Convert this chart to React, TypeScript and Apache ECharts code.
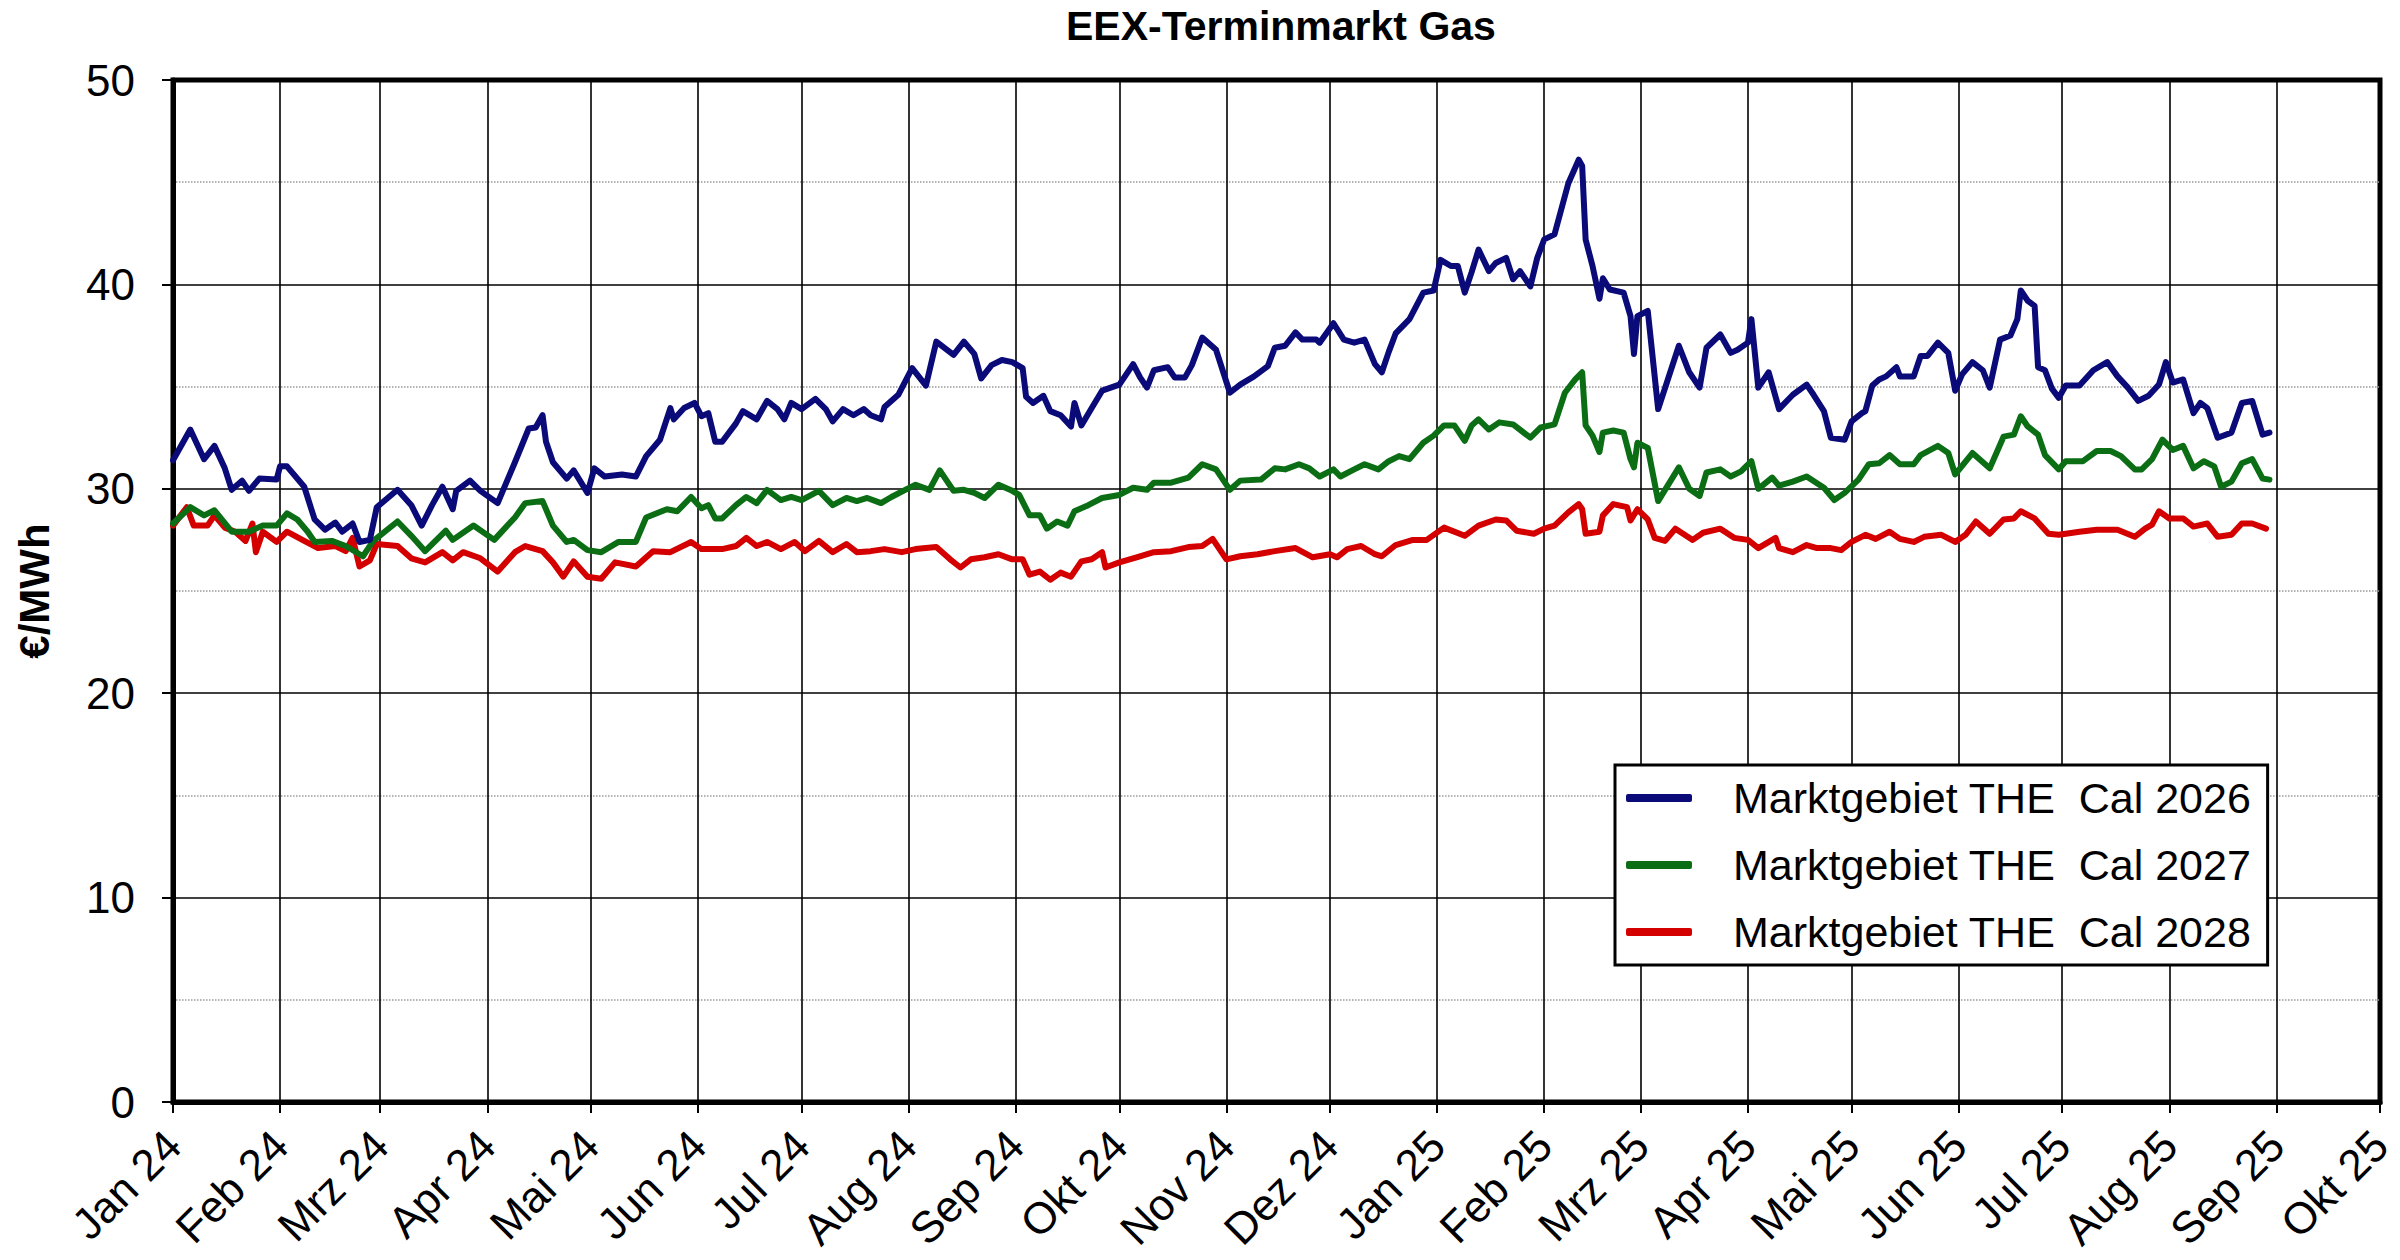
import React, { useEffect, useRef } from "react";
import * as echarts from "echarts";

// x-axis: one category per calendar day, 2024-01-01 … 2025-10-01
const AXIS_START = { year: 2024, month: 0, day: 1 };
const AXIS_DAY_COUNT = 640;
const monthNames = ["Jan", "Feb", "Mrz", "Apr", "Mai", "Jun", "Jul", "Aug", "Sep", "Okt", "Nov", "Dez"];

const chartTitle = "EEX-Terminmarkt Gas";
const yAxisName = "€/MWh";
const seriesNames = ["Marktgebiet THE  Cal 2026", "Marktgebiet THE  Cal 2027", "Marktgebiet THE  Cal 2028"];

// days since 2024-01-01 and the price (€/MWh)
const cal2026Days = [
  0, 5, 9, 12, 15, 17, 20, 22, 25, 30, 31, 33, 38, 41, 44, 47, 49, 52, 54, 57, 59, 65, 69, 72, 75, 78, 81, 82, 86, 89,
  94, 99, 103, 105, 107, 108, 110, 114, 116, 120, 122, 125, 130, 134, 137, 141, 144, 145, 148, 151,
  153, 155, 157, 159, 163, 165, 169, 172, 175, 177, 179, 182, 186, 189, 191, 194, 197, 200, 202, 205, 206, 210, 214,
  218, 221, 226, 229, 232, 234, 237, 240, 243, 246, 247, 249, 252, 254, 257, 260, 261, 263, 266, 269, 274, 278, 280,
  282, 284, 288, 290, 293, 295, 298, 302, 306,
  309, 313, 317, 319, 322, 325, 327, 331, 332, 336, 339, 342, 345, 348, 350, 352, 354, 358, 362, 365, 367, 370, 372,
  374, 376, 378, 381, 383, 386, 388, 390, 393, 395, 397, 400, 404, 407, 408, 409, 411, 413, 414, 416, 420, 422, 423,
  424, 427, 430, 436, 439, 442, 444, 448, 451, 453, 456, 457, 459, 462, 465,
  469, 473, 475, 478, 480, 484, 486, 489, 490, 492, 494, 496, 499, 500, 504, 506, 508, 511, 514, 516, 518, 521, 524,
  526, 529, 532, 534, 535, 537, 539, 540, 542, 544, 546, 548, 552, 556, 560, 563, 566, 569, 572, 575, 577, 579, 582,
  585, 587, 589, 592, 596, 599, 602, 605, 607,
];
const cal2026Values = [
  31.4, 32.9, 31.45, 32.1, 31.0, 29.95, 30.4, 29.9, 30.5, 30.45, 31.1, 31.1, 30.1, 28.5, 28.0, 28.35, 27.9, 28.3, 27.4,
  27.5, 29.1, 29.95, 29.2, 28.2, 29.2, 30.1, 29.0, 29.9, 30.4, 29.9,
  29.3, 31.3, 32.95, 33.0, 33.6, 32.3, 31.3, 30.5, 30.9, 29.8, 31.0, 30.6, 30.7, 30.6, 31.6, 32.4, 33.95, 33.4, 33.95, 34.2,
  33.55, 33.7, 32.3, 32.3, 33.2, 33.8, 33.4, 34.3, 33.9, 33.4, 34.2, 33.9, 34.4, 33.9, 33.3, 33.9, 33.6, 33.9, 33.6, 33.4,
  34.0, 34.6, 35.9, 35.05, 37.2, 36.55, 37.2, 36.6, 35.4, 36.05, 36.3, 36.2, 35.9, 34.5, 34.2, 34.55, 33.8, 33.6, 33.05,
  34.2, 33.1, 33.95, 34.8, 35.1, 36.1, 35.45, 34.95, 35.8, 35.95, 35.45, 35.45, 36.05, 37.4, 36.8, 34.7,
  35.1, 35.5, 36.0, 36.9, 37.0, 37.65, 37.3, 37.3, 37.15, 38.1, 37.3, 37.15, 37.3, 36.1, 35.7, 36.7, 37.6, 38.3, 39.6,
  39.7, 41.2, 40.9, 40.9, 39.6, 40.6, 41.7, 40.65, 41.05, 41.3, 40.25, 40.65, 39.9, 41.3, 42.2, 42.45, 44.95, 46.1, 45.8,
  42.2, 40.9, 39.3, 40.3, 39.75, 39.6, 38.45, 36.6, 38.45, 38.7, 33.9, 37.0, 35.7, 34.95, 36.9, 37.55, 36.65, 36.8, 37.15,
  38.3, 34.95, 35.7, 33.9,
  34.6, 35.1, 34.6, 33.8, 32.5, 32.4, 33.3, 33.7, 33.8, 35.05, 35.35, 35.5, 35.95, 35.5, 35.5, 36.5, 36.5, 37.15, 36.65,
  34.8, 35.6, 36.2, 35.8, 34.95, 37.3, 37.5, 38.3, 39.7, 39.2, 38.95, 35.95, 35.8, 34.9, 34.45, 35.05, 35.05, 35.8, 36.2,
  35.5, 34.95, 34.3, 34.55, 35.1, 36.2, 35.2, 35.35, 33.7, 34.2, 33.95, 32.5, 32.75, 34.2, 34.3, 32.65, 32.75,
];

const cal2027Days = [
  0, 5, 9, 12, 17, 22, 26, 30, 33, 36, 39, 41, 46, 50, 55, 58, 65, 69, 73, 79, 81, 87, 93, 99, 102, 107, 110, 114, 116,
  120, 124, 129, 134, 137, 143, 146, 150,
  153, 155, 157, 159, 163, 166, 169, 172, 176, 179, 182, 187, 191, 195, 198, 201, 205, 208, 212, 215, 219, 222, 226,
  229, 232, 235, 239, 243, 245, 248, 251, 253, 256, 259, 261, 265, 269, 274, 278, 282, 284, 289, 294, 298, 302, 306,
  309, 315, 319, 322, 326, 329, 332, 336, 338, 342, 345, 349, 352, 355, 358, 362, 365, 368, 371, 374, 376, 378, 381,
  384, 388, 393, 396, 400, 403, 406, 408, 409, 411, 413, 414, 417, 420, 422, 423, 424, 427, 430, 436, 439, 442, 444,
  448, 451, 454, 457, 459, 463, 465,
  469, 473, 478, 481, 484, 488, 491, 494, 497, 500, 504, 506, 511, 514, 516, 521, 526, 530, 533, 535, 537, 540, 542,
  546, 548, 553, 557, 561, 564, 568, 570, 573, 576, 579, 582, 585, 588, 591, 593, 596, 599, 602, 605, 607,
];
const cal2027Values = [
  28.3, 29.1, 28.7, 28.95, 27.9, 27.9, 28.2, 28.2, 28.8, 28.5, 27.9, 27.4, 27.45, 27.2, 26.7, 27.45, 28.4, 27.7, 26.95,
  27.95, 27.5, 28.2, 27.5, 28.6, 29.3, 29.4, 28.2, 27.4, 27.5, 27.0, 26.9, 27.4, 27.4, 28.6, 29.0, 28.9, 29.6,
  29.05, 29.2, 28.55, 28.55, 29.2, 29.6, 29.3, 29.95, 29.45, 29.6, 29.45, 29.9, 29.2, 29.55, 29.4, 29.55, 29.3, 29.6,
  29.95, 30.2, 29.95, 30.9, 29.9, 29.95, 29.8, 29.55, 30.2, 29.9, 29.7, 28.7, 28.7, 28.05, 28.4, 28.2, 28.9, 29.2, 29.55,
  29.7, 30.05, 29.95, 30.3, 30.3, 30.55, 31.2, 30.95, 29.95,
  30.4, 30.45, 31.0, 30.95, 31.2, 31.0, 30.6, 30.95, 30.6, 30.95, 31.2, 30.95, 31.35, 31.6, 31.45, 32.25, 32.6, 33.1,
  33.1, 32.35, 33.1, 33.4, 32.9, 33.25, 33.15, 32.5, 33.0, 33.15, 34.7, 35.35, 35.7, 33.1, 32.6, 31.8, 32.75, 32.85,
  32.75, 31.45, 31.05, 32.25, 32.0, 29.4, 31.05, 30.0, 29.65, 30.8, 30.95, 30.6, 30.85, 31.35, 30.0, 30.55, 30.15,
  30.35, 30.6, 30.05, 29.45, 29.8, 30.45, 31.2, 31.25, 31.65, 31.2, 31.2, 31.65, 32.1, 31.75, 30.7, 31.75, 31.0, 32.55,
  32.65, 33.55, 33.05, 32.65, 31.65, 30.95, 31.35, 31.35, 31.85, 31.85, 31.6, 30.95, 30.95, 31.45, 32.4, 31.9, 32.1,
  31.0, 31.35, 31.1, 30.1, 30.35, 31.25, 31.45, 30.5, 30.45,
];

const cal2028Days = [
  0, 4, 6, 10, 12, 15, 18, 21, 23, 24, 26, 30, 33, 38, 42, 47, 50, 52, 54, 57, 59, 65, 69, 73, 78, 81, 84, 89, 94, 99,
  102, 107, 110, 113, 116, 120, 124, 128, 134, 139, 144, 150,
  153, 159, 163, 166, 169, 172, 176, 180, 183, 187, 191, 195, 198, 202, 206, 211, 215, 221, 225, 228, 231, 235, 239,
  243, 246, 248, 251, 254, 257, 260, 263, 266, 269, 270, 274, 279, 284, 289, 294, 298, 301, 305,
  309, 314, 319, 325, 330, 335, 337, 340, 344, 348, 350, 354, 359, 363, 368, 374, 378, 383, 386, 389, 394, 397, 400,
  404, 407, 408, 409, 413, 414, 417, 421, 422, 424, 427, 429, 432, 435, 440, 443, 448, 452, 456, 459, 464, 465,
  469, 473, 476, 480, 483, 486, 490, 493, 497, 500, 504, 507, 512, 516, 519, 522, 526, 530, 533, 535, 539, 543, 546,
  552, 557, 563, 568, 571, 573, 575, 578, 582, 585, 589, 592, 596, 599, 602, 606,
];
const cal2028Values = [
  28.2, 29.1, 28.2, 28.2, 28.7, 28.1, 27.9, 27.45, 28.3, 26.9, 27.9, 27.4, 27.9, 27.45, 27.1, 27.2, 26.95, 27.6, 26.2,
  26.5, 27.3, 27.2, 26.6, 26.4, 26.9, 26.5, 26.9, 26.6, 25.95, 26.9, 27.2, 26.95, 26.4, 25.7, 26.45, 25.7, 25.6, 26.4,
  26.2, 26.95, 26.9, 27.4,
  27.05, 27.05, 27.2, 27.6, 27.2, 27.4, 27.05, 27.4, 26.95, 27.45, 26.9, 27.3, 26.9, 26.95, 27.05, 26.9, 27.05, 27.15,
  26.55, 26.15, 26.55, 26.65, 26.8, 26.55, 26.55, 25.8, 25.95, 25.55, 25.9, 25.7, 26.45, 26.55, 26.9, 26.15, 26.4,
  26.65, 26.9, 26.95, 27.15, 27.2, 27.55, 26.55,
  26.7, 26.8, 26.95, 27.1, 26.65, 26.8, 26.65, 27.05, 27.2, 26.8, 26.7, 27.25, 27.5, 27.5, 28.1, 27.7, 28.2, 28.5,
  28.45, 27.95, 27.8, 28.05, 28.2, 28.85, 29.25, 29.0, 27.8, 27.9, 28.7, 29.25, 29.1, 28.45, 29.0, 28.5, 27.6, 27.45,
  28.05, 27.5, 27.85, 28.05, 27.6, 27.5, 27.1, 27.6, 27.1,
  26.9, 27.25, 27.1, 27.1, 27.0, 27.4, 27.75, 27.55, 27.9, 27.55, 27.4, 27.65, 27.75, 27.4, 27.75, 28.4, 27.8, 28.5,
  28.55, 28.9, 28.55, 27.8, 27.75, 27.9, 28.0, 28.0, 27.65, 28.05, 28.25, 28.9, 28.55, 28.55, 28.15, 28.3, 27.65,
  27.75, 28.3, 28.3, 28.05,
];

const seriesColors = ["#0a0a78", "#0b6e14", "#d40000"];
const FONT = "'Liberation Sans', Arial, Helvetica, sans-serif";

function pad(n: number) {
  return n < 10 ? "0" + n : "" + n;
}

function buildCategories(): string[] {
  const out: string[] = [];
  for (let i = 0; i < AXIS_DAY_COUNT; i++) {
    const d = new Date(Date.UTC(AXIS_START.year, AXIS_START.month, AXIS_START.day + i));
    out.push(d.getUTCFullYear() + "-" + pad(d.getUTCMonth() + 1) + "-" + pad(d.getUTCDate()));
  }
  return out;
}

const isMonthStart = (_index: number, value: string) => typeof value === "string" && value.endsWith("-01");

function monthLabel(value: string) {
  const parts = value.split("-");
  return monthNames[Number(parts[1]) - 1] + " " + parts[0].slice(2);
}

export default function App() {
  const ref = useRef<HTMLDivElement>(null);

  useEffect(() => {
    document.body.style.margin = "0";
    if (!ref.current) return;
    const chart = echarts.init(ref.current, undefined, { renderer: "svg" });
    const categories = buildCategories();
    const daySets = [cal2026Days, cal2027Days, cal2028Days];
    const valueSets = [cal2026Values, cal2027Values, cal2028Values];

    const series = seriesNames.map((name, s) => ({
      name,
      type: "line" as const,
      data: daySets[s].map((d, i) => [d, valueSets[s][i]]),
      showSymbol: false,
      symbol: "none",
      lineStyle: { color: seriesColors[s], width: 6, join: "round" as const, cap: "round" as const },
      itemStyle: { color: seriesColors[s] },
      emphasis: { disabled: true },
      z: 10 - s,
    }));

    chart.setOption({
      animation: false,
      backgroundColor: "#ffffff",
      textStyle: { fontFamily: FONT },
      title: {
        text: chartTitle,
        left: 1066,
        top: 5,
        padding: 0,
        textStyle: { fontSize: 41, fontWeight: "bold", color: "#000", fontFamily: FONT },
      },
      grid: {
        left: 173,
        right: 20,
        top: 80,
        bottom: 158,
        show: true,
        borderColor: "#000",
        borderWidth: 5,
        containLabel: false,
        outerBoundsMode: "none",
      },
      legend: {
        orient: "vertical",
        left: 1615,
        top: 765,
        data: seriesNames,
        icon: "roundRect",
        itemWidth: 66,
        itemHeight: 8,
        itemGap: 19,
        padding: [9, 16, 9, 11],
        borderColor: "#000",
        borderWidth: 3,
        backgroundColor: "#fff",
        selectedMode: false,
        textStyle: { fontSize: 43, color: "#000", fontFamily: FONT, lineHeight: 48, padding: [0, 0, 0, 36] },
      },
      xAxis: {
        type: "category",
        data: categories,
        boundaryGap: false,
        axisLine: { show: true, lineStyle: { color: "#000", width: 5 } },
        axisTick: { show: true, interval: isMonthStart, length: 11, lineStyle: { color: "#000", width: 2 } },
        axisLabel: {
          interval: isMonthStart,
          formatter: monthLabel,
          rotate: 45,
          margin: 36,
          fontSize: 44,
          color: "#000",
          fontFamily: FONT,
        },
        splitLine: { show: true, interval: isMonthStart, lineStyle: { color: "#000", width: 1.6 } },
      },
      yAxis: {
        type: "value",
        min: 0,
        max: 50,
        interval: 10,
        name: yAxisName,
        nameLocation: "middle",
        nameRotate: 90,
        nameGap: 118,
        nameTextStyle: { fontSize: 42, fontWeight: "bold", color: "#000", fontFamily: FONT },
        axisLine: { show: true, lineStyle: { color: "#000", width: 5 } },
        axisTick: { show: true, length: 11, lineStyle: { color: "#000", width: 2 } },
        axisLabel: { fontSize: 44, color: "#000", margin: 38, fontFamily: FONT },
        splitLine: { show: true, lineStyle: { color: "#000", width: 1.6 } },
        minorTick: { show: false, splitNumber: 2 },
        minorSplitLine: { show: true, lineStyle: { color: "#9a9a9a", width: 1.5, type: "dotted" } },
      },
      tooltip: { show: false },
      series,
    });

    return () => chart.dispose();
  }, []);

  return <div ref={ref} style={{ width: 2400, height: 1260 }} />;
}
